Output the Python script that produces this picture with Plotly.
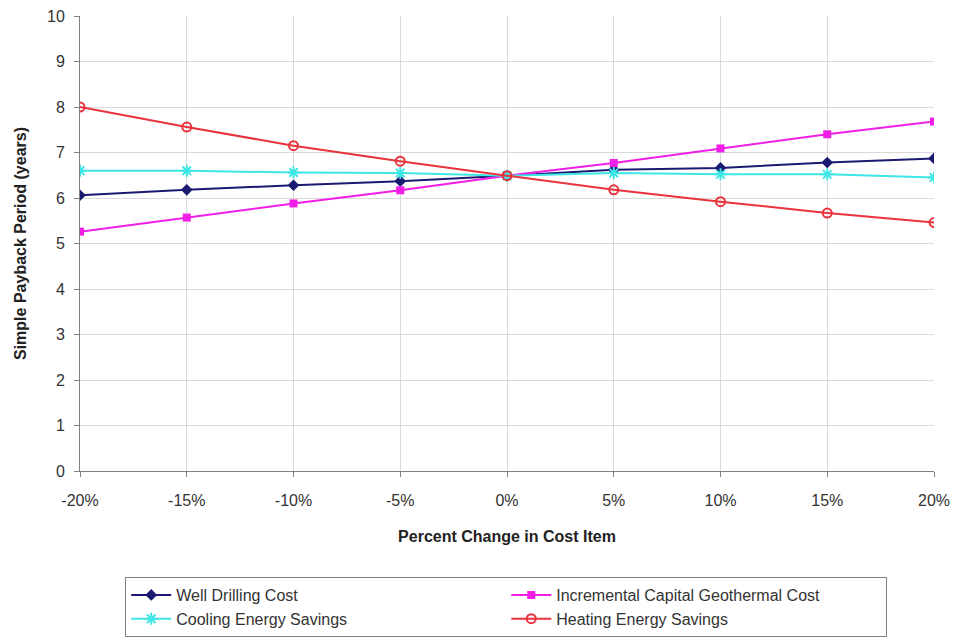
import plotly.graph_objects as go

# Percent change applied to each cost item
pct_change = [-20, -15, -10, -5, 0, 5, 10, 15, 20]

# Simple payback period (years) for each sensitivity case
well_drilling = [6.06, 6.18, 6.28, 6.37, 6.49, 6.62, 6.66, 6.78, 6.87]
incremental_capital = [5.26, 5.57, 5.88, 6.17, 6.49, 6.77, 7.09, 7.40, 7.68]
cooling_savings = [6.60, 6.60, 6.56, 6.55, 6.49, 6.55, 6.52, 6.52, 6.45]
heating_savings = [8.00, 7.56, 7.15, 6.81, 6.49, 6.18, 5.92, 5.67, 5.46]

x_tick_vals = pct_change
x_tick_text = ["-20%", "-15%", "-10%", "-5%", "0%", "5%", "10%", "15%", "20%"]
y_tick_vals = list(range(0, 11))

FONT = "Liberation Sans, Arial, sans-serif"

fig = go.Figure()

fig.add_trace(go.Scatter(
    x=pct_change, y=well_drilling, name="Well Drilling Cost", mode="lines+markers",
    line=dict(color="#1a1a70", width=2),
    marker=dict(symbol="diamond", size=9, color="#1a1a70"),
))
fig.add_trace(go.Scatter(
    x=pct_change, y=incremental_capital, name="Incremental Capital Geothermal Cost",
    mode="lines+markers",
    line=dict(color="#f01ee6", width=2),
    marker=dict(symbol="square", size=8, color="#f01ee6"),
))
fig.add_trace(go.Scatter(
    x=pct_change, y=cooling_savings, name="Cooling Energy Savings", mode="lines+markers",
    line=dict(color="#3fe6e6", width=2),
    marker=dict(symbol="asterisk-open", size=10, line=dict(color="#3fe6e6", width=2)),
))
fig.add_trace(go.Scatter(
    x=pct_change, y=heating_savings, name="Heating Energy Savings", mode="lines+markers",
    line=dict(color="#e8323c", width=2),
    marker=dict(symbol="circle-open", size=9, line=dict(color="#e8323c", width=2)),
))

fig.update_layout(
    width=955, height=643,
    margin=dict(l=80, r=21, t=16, b=172, autoexpand=False),
    paper_bgcolor="white", plot_bgcolor="white",
    font=dict(family=FONT, size=16, color="#333333"),
    showlegend=True,
    legend=dict(
        orientation="h", x=0.053, y=-0.233, xanchor="left", yanchor="top",
        entrywidth=325, entrywidthmode="pixels",
        bordercolor="#808080", borderwidth=1,
        font=dict(family=FONT, size=16, color="#333333"),
        tracegroupgap=0, itemwidth=40,
        traceorder="normal",
    ),
)

fig.update_xaxes(
    range=[-20, 20], tickvals=x_tick_vals, ticktext=x_tick_text,
    showgrid=True, gridcolor="#d9d9d9", gridwidth=1,
    showline=True, linecolor="#808080", linewidth=1, mirror=False,
    ticks="outside", ticklen=5, tickcolor="#808080",
    ticklabelstandoff=10,
    zeroline=False,
    title=dict(text="<b>Percent Change in Cost Item</b>", standoff=22,
               font=dict(family=FONT, size=16, color="#222222")),
)
fig.update_yaxes(
    range=[0, 10], tickvals=y_tick_vals,
    showgrid=True, gridcolor="#d9d9d9", gridwidth=1,
    showline=True, linecolor="#808080", linewidth=1,
    ticks="outside", ticklen=5, tickcolor="#808080",
    ticklabelstandoff=6,
    zeroline=False,
    title=dict(text="<b>Simple Payback Period (years)</b>", standoff=16,
               font=dict(family=FONT, size=16, color="#222222")),
)

fig.write_html("out.html")
